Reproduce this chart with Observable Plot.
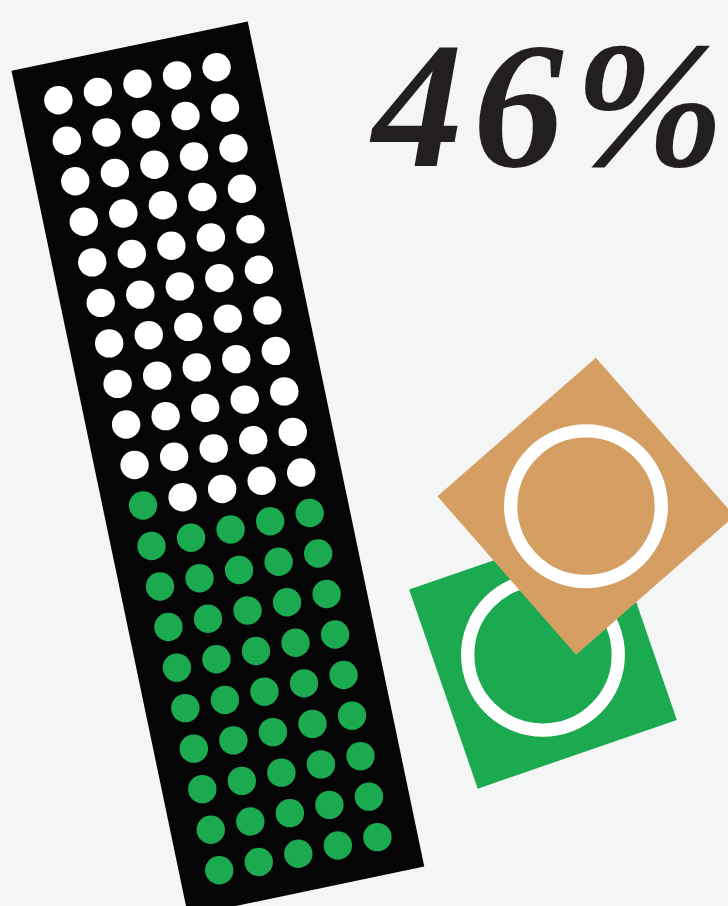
<!DOCTYPE html>
<html><head><meta charset="utf-8">
<script src="https://cdn.jsdelivr.net/npm/d3@7"></script>
<script src="https://cdn.jsdelivr.net/npm/@observablehq/plot@0.6"></script>
<style>
html,body{margin:0;padding:0;background:#f4f6f5;}
#chart{width:728px;height:906px;overflow:hidden;}
</style>
</head><body><div id="chart"></div>
<script>
// ---- data ----
const shareValue = 46;            // percent shown
const totalUnits = 100;           // dots in the column
const gridCols = 5;
const gridRows = 20;
const headline = ["46%"];
const tileNames = ["greenTile", "tanTile"];

// ---- styling / layout (kept apart from the data) ----
const colors = {bg: "#f4f6f5", column: "#050505", empty: "#ffffff", filled: "#1baa50", greenTile: "#1baa50", tanTile: "#d59e63", ring: "#ffffff", text: "#231f20"};
const columnLayout = {cx: 217.4, cy: 468.2, w: 241.3, h: 863.4, angle: -11.8, stepX: 40.4, stepY: 41.4, r: 14.2};
const tileLayout = {
  greenTile: {cx: 542.5, cy: 654.3, size: 210.6, angle: -19.0},
  tanTile: {cx: 585.5, cy: 505.7, size: 210.5, angle: -41.2}
};
const ringLayout = {r: 75.3, width: 13.3};
const headlineLayout = {x: 372, baseline: 165, size: 181, gap: 10};

function placer(cx, cy, deg) {
  const t = deg * Math.PI / 180, c = Math.cos(t), s = Math.sin(t);
  return (lx, ly) => [cx + lx * c - ly * s, cy + lx * s + ly * c];
}
function rectCorners(name, cx, cy, w, h, angle) {
  const p = placer(cx, cy, angle);
  return [[-w/2, -h/2], [w/2, -h/2], [w/2, h/2], [-w/2, h/2]].map(([a, b]) => {
    const [x, y] = p(a, b); return {name, x, y};
  });
}

// polygons
const polys = [
  ...rectCorners("column", columnLayout.cx, columnLayout.cy, columnLayout.w, columnLayout.h, columnLayout.angle),
  ...tileNames.flatMap(n => { const t = tileLayout[n]; return rectCorners(n, t.cx, t.cy, t.size, t.size, t.angle); })
];

// unit dots
const pc = placer(columnLayout.cx, columnLayout.cy, columnLayout.angle);
const dots = d3.range(totalUnits).map(i => {
  const row = Math.floor(i / gridCols), col = i % gridCols;
  const fromBottom = (gridRows - 1 - row) * gridCols + col;
  const [x, y] = pc((col - (gridCols - 1) / 2) * columnLayout.stepX, (row - (gridRows - 1) / 2) * columnLayout.stepY);
  return {x, y, filled: fromBottom < shareValue};
});

const rings = tileNames.map(n => ({name: n, x: tileLayout[n].cx, y: tileLayout[n].cy}));

const plot = Plot.plot({
  width: 728, height: 906, margin: 0,
  x: {domain: [0, 728], range: [0, 728], axis: null},
  y: {domain: [0, 906], range: [0, 906], axis: null},
  style: {background: colors.bg, overflow: "hidden"},
  marks: [
    Plot.line(polys.filter(d => d.name === "column"), {x: "x", y: "y", curve: "linear-closed", fill: colors.column, stroke: "none"}),
    Plot.dot(dots, {x: "x", y: "y", r: columnLayout.r, fill: d => d.filled ? colors.filled : colors.empty, stroke: "none"}),
    Plot.line(polys.filter(d => d.name === "greenTile"), {x: "x", y: "y", curve: "linear-closed", fill: colors.greenTile, stroke: "none"}),
    Plot.dot(rings.filter(d => d.name === "greenTile"), {x: "x", y: "y", r: ringLayout.r, fill: colors.greenTile, stroke: colors.ring, strokeWidth: ringLayout.width}),
    Plot.line(polys.filter(d => d.name === "tanTile"), {x: "x", y: "y", curve: "linear-closed", fill: colors.tanTile, stroke: "none"}),
    Plot.dot(rings.filter(d => d.name === "tanTile"), {x: "x", y: "y", r: ringLayout.r, fill: colors.tanTile, stroke: colors.ring, strokeWidth: ringLayout.width}),
    Plot.text(headline, {x: () => headlineLayout.x, y: () => headlineLayout.baseline, text: d => d, textAnchor: "start", lineAnchor: "bottom",
      fontFamily: "Liberation Serif", fontWeight: "bold", fontStyle: "italic", fontSize: headlineLayout.size, fill: colors.text})
  ]
});
// open up the spacing between the characters (not after the last one)
d3.select(plot).selectAll('g[aria-label="text"] text').each(function () {
  const t = d3.select(this), chars = Array.from(t.text());
  t.text(null);
  chars.forEach((c, i) => t.append("tspan").attr("dx", i ? headlineLayout.gap : null).text(c));
});
document.getElementById("chart").appendChild(plot);
</script>
</body></html>
